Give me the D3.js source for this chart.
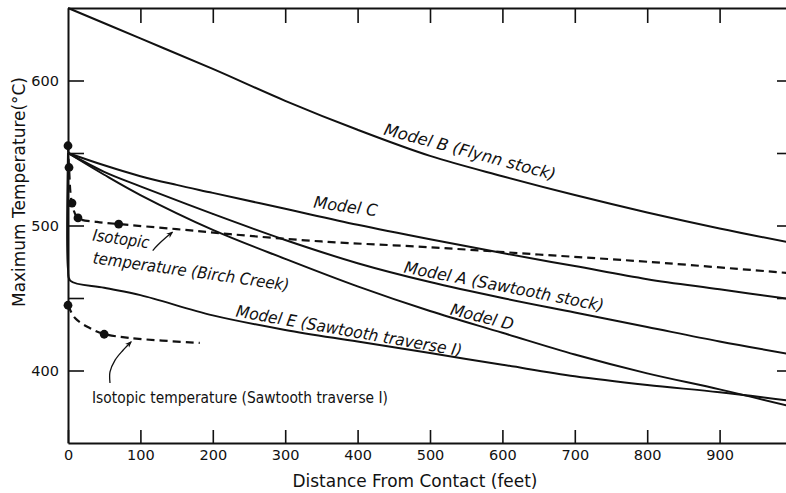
<!DOCTYPE html>
<html>
<head>
<meta charset="utf-8">
<script src="https://cdn.jsdelivr.net/npm/d3@7"></script>
<style>
  html, body { margin: 0; padding: 0; background: #fff; }
  svg { display: block; }
  text { font-family: "DejaVu Sans", sans-serif; fill: #111; }
</style>
</head>
<body>
<svg id="chart" width="786" height="493"></svg>
<script>
// ---------- data ----------
const distTicks = [0, 100, 200, 300, 400, 500, 600, 700, 800, 900];
const distTopTicks = [100, 200, 300, 400, 500, 600, 700, 800, 900];
const tempTicks = [400, 450, 500, 550, 600];
const tempLabels = [400, 500, 600];

const distB = [0, 100, 200, 300, 400, 500, 600, 700, 800, 900, 1000];
const modelB = [650, 629, 608, 586, 566, 548, 534, 521, 509, 498, 488];

const distC = [0, 50, 100, 150, 200, 300, 400, 500, 600, 700, 800, 900, 1000];
const modelC = [550, 541.5, 534, 528, 522.5, 511.5, 500.5, 490.5, 481, 472, 463, 456, 449];

const distAD = [0, 50, 100, 200, 300, 400, 500, 600, 700, 800, 900, 1000];
const modelA = [550, 537, 527, 508, 490, 474, 461, 450, 440, 430, 420, 411];
const modelD = [550, 535, 521, 497, 477, 458, 441, 426, 411, 398, 387, 375];

const distE = [0, 0, 3, 50, 100, 200, 300, 400, 500, 600, 700, 800, 900, 1000];
const modelE = [550, 470, 462, 457, 452, 438, 428, 420, 412, 404, 396, 390, 385, 379];

const birchD = [0, 1.4, 5.5, 13.8, 40, 70, 150, 224, 350, 500, 650, 800, 1000];
const birchT = [555, 540, 515.5, 505.2, 502.5, 501, 497.5, 494, 489, 485, 480, 475, 467];
const birchDotD = [0, 1.4, 5.5, 13.8, 70];
const birchDotT = [555, 540, 515.5, 505.2, 501];

const sawD = [0, 10, 30, 50, 86, 182];
const sawT = [445, 436, 429.3, 425.2, 422.4, 419];
const sawDotD = [0, 50];
const sawDotT = [445, 425];

const birchArrowD = [117, 124, 136, 144];
const birchArrowT = [482.7, 486.5, 492, 495.3];
const sawArrowD = [58, 58, 65, 76, 87];
const sawArrowT = [391.4, 399, 407.2, 414, 419.7];

// ---------- layout ----------
const svg = d3.select("#chart");
const x = d3.scaleLinear().domain([0, 1000]).range([68, 792]);
const y = d3.scaleLinear().domain([350, 650]).range([443, 8]);

const ink = "#111";
const zip = (a, b) => a.map((d, i) => [d, b[i]]);
const line = d3.line().x(d => x(d[0])).y(d => y(d[1])).curve(d3.curveCatmullRom.alpha(0.5));

// arrow marker
svg.append("defs").append("marker")
  .attr("id", "arrow").attr("viewBox", "0 0 10 10")
  .attr("refX", 8).attr("refY", 5)
  .attr("markerWidth", 7).attr("markerHeight", 7)
  .attr("markerUnits", "userSpaceOnUse")
  .attr("orient", "auto")
  .append("path").attr("d", "M0,1 L10,5 L0,9 L3,5 Z").attr("fill", ink);

// ---------- axes ----------
const gB = svg.append("g").attr("transform", `translate(0,${y(350)})`)
  .call(d3.axisBottom(x).tickValues(distTicks).tickSizeInner(-13).tickSizeOuter(0).tickPadding(7).tickFormat(d3.format("d")));
const gT = svg.append("g").attr("transform", `translate(0,${y(650)})`)
  .call(d3.axisTop(x).tickValues(distTopTicks).tickSizeInner(-15).tickSizeOuter(0).tickFormat(""));
const gL = svg.append("g").attr("transform", `translate(${x(0)},0)`)
  .call(d3.axisLeft(y).tickValues(tempTicks).tickSizeInner(-16).tickSizeOuter(0).tickPadding(9)
    .tickFormat(d => tempLabels.includes(d) ? d : ""));
const gR = svg.append("g").attr("transform", `translate(${x(1000)},0)`)
  .call(d3.axisRight(y).tickValues(tempTicks).tickSizeInner(-15).tickSizeOuter(0).tickFormat(""));

[gB, gT, gL, gR].forEach(g => {
  g.select(".domain").attr("stroke", ink).attr("stroke-width", 2);
  g.selectAll(".tick line").attr("stroke", ink).attr("stroke-width", 1.6);
  g.selectAll(".tick text").attr("fill", ink).style("font-family", "DejaVu Sans")
    .style("font-size", "14.5px");
});

// axis titles
svg.append("text")
  .attr("x", 415).attr("y", 487).attr("text-anchor", "middle")
  .attr("textLength", 245).attr("lengthAdjust", "spacingAndGlyphs")
  .style("font-size", "17.5px")
  .text("Distance From Contact (feet)");
svg.append("text")
  .attr("transform", "translate(25,192) rotate(-90)")
  .attr("text-anchor", "middle")
  .attr("textLength", 230).attr("lengthAdjust", "spacingAndGlyphs")
  .style("font-size", "17.5px")
  .text("Maximum Temperature(°C)");

// ---------- curves ----------
const solid = [zip(distB, modelB), zip(distC, modelC), zip(distAD, modelA), zip(distAD, modelD), zip(distE, modelE)];
svg.append("g").selectAll("path").data(solid).join("path")
  .attr("d", line).attr("fill", "none").attr("stroke", ink).attr("stroke-width", 2);

const dashed = [zip(birchD, birchT), zip(sawD, sawT)];
svg.append("g").selectAll("path").data(dashed).join("path")
  .attr("d", line).attr("fill", "none").attr("stroke", ink).attr("stroke-width", 2.2)
  .attr("stroke-dasharray", "8,5");

const dots = zip(birchDotD, birchDotT).concat(zip(sawDotD, sawDotT));
svg.append("g").selectAll("circle").data(dots).join("circle")
  .attr("cx", d => x(d[0])).attr("cy", d => y(d[1])).attr("r", 4.4).attr("fill", ink);

// annotation arrows
svg.append("g").selectAll("path").data([zip(birchArrowD, birchArrowT), zip(sawArrowD, sawArrowT)]).join("path")
  .attr("d", line).attr("fill", "none").attr("stroke", ink).attr("stroke-width", 1.3)
  .attr("marker-end", "url(#arrow)");

// ---------- labels ----------
const labels = [
  { t: "Model B (Flynn stock)", cx: 470, cy: 152, r: 15, w: 177, it: true },
  { t: "Model C", cx: 345.5, cy: 206.5, r: 8, w: 64, it: true },
  { t: "Model A (Sawtooth stock)", cx: 504, cy: 286.5, r: 11, w: 203, it: true },
  { t: "Model D", cx: 482, cy: 317, r: 14, w: 64.5, it: true },
  { t: "Model E (Sawtooth traverse I)", cx: 349, cy: 331, r: 10, w: 229, it: true },
  { t: "Isotopic", cx: 121, cy: 239, r: 8, w: 57, it: true },
  { t: "temperature (Birch Creek)", cx: 191, cy: 271.5, r: 8, w: 198, it: true },
  { t: "Isotopic temperature (Sawtooth traverse I)", cx: 240, cy: 397, r: 0, w: 296, it: false }
];
svg.append("g").selectAll("text").data(labels).join("text")
  .attr("transform", d => `translate(${d.cx},${d.cy}) rotate(${d.r})`)
  .attr("text-anchor", "middle").attr("dominant-baseline", "central")
  .attr("textLength", d => d.w).attr("lengthAdjust", "spacingAndGlyphs")
  .style("font-size", "16.5px")
  .style("font-style", d => d.it ? "italic" : "normal")
  .text(d => d.t);
</script>
</body>
</html>
